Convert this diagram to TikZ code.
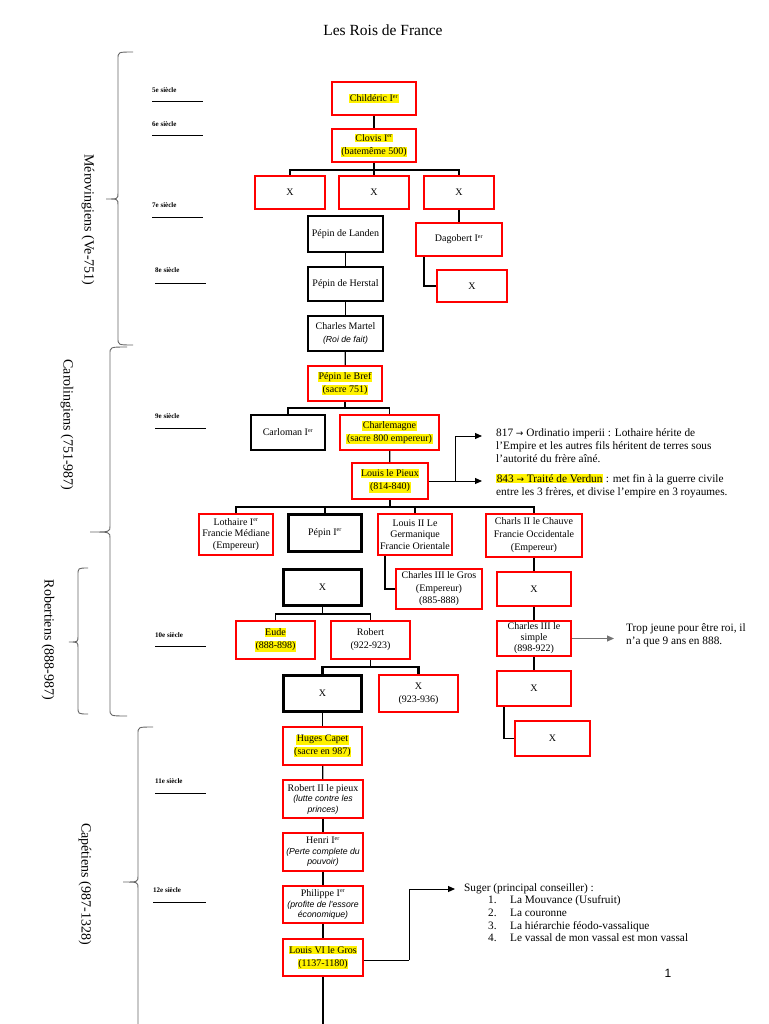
\documentclass[tikz,border=0pt]{standalone}
\usepackage{fontspec}
\setmainfont{Liberation Serif}
\newfontfamily\sansf{Liberation Sans}
\newfontfamily\arrf{DejaVu Sans}
\usetikzlibrary{arrows.meta}
\newcommand\hl[1]{{\setlength\fboxsep{0.6pt}\colorbox{yellow}{#1}}}
\newcommand\er{\textsuperscript{\fontsize{6}{6}\selectfont er}}
\newcommand\ra{{\arrf\fontsize{9}{10}\selectfont →}}
\newcommand\nt[1]{{\sansf\itshape\fontsize{8.7}{10}\selectfont #1}}
\tikzset{
  sz/.style 2 args={minimum width=#1pt, minimum height=#2pt},
  rbox/.style={draw=red, line width=1.8pt, fill=white, align=center, inner sep=0pt, font=\fontsize{10}{13}\selectfont},
  bbox/.style={rbox, draw=black, line width=1.6pt},
  tbox/.style={rbox, draw=black, line width=2.8pt},
  conn/.style={draw=black, line width=1.3pt},
  tconn/.style={draw=black, line width=2.4pt},
  arr/.style={draw=black, line width=1pt, -{Triangle[length=7pt,width=6pt]}},
  brc/.style={draw=black!60, line width=0.9pt},
  era/.style={rotate=-90, font=\fontsize{14}{16}\selectfont},
  siec/.style={anchor=west, inner sep=0pt, font=\bfseries\fontsize{7}{8}\selectfont},
  sline/.style={draw=black, line width=0.9pt},
  note/.style={anchor=north west, align=left, inner sep=0pt, font=\fontsize{11.3}{13}\selectfont}
}
\newcommand\mybrace[6]{% spine, ytop, ybot, xend, xtip, ytip
  \draw[brc] (#4,#2) .. controls (#1,#2) .. (#1,#2+7) -- (#1,#6-6)
    .. controls (#1,#6) .. (#5,#6) .. controls (#1,#6) .. (#1,#6+6)
    -- (#1,#3-7) .. controls (#1,#3) .. (#4,#3);}
\begin{document}
\begin{tikzpicture}[x=1pt,y=-1pt]
\useasboundingbox[fill=white] (0,0) rectangle (768,1024);
\node (title) at (383,30) {\fontsize{15.5}{17}\selectfont Les Rois de France};

% era braces and labels
\mybrace{118}{52}{345}{133}{106}{199}
\mybrace{110}{347}{716}{127}{90}{532}
\mybrace{78}{568}{714}{88}{69}{642}
\mybrace{138}{727}{1040}{153}{123}{882}
\node[era] (merov) at (88,220) {Mérovingiens (Ve-751)};
\node[era] (caro) at (67,425) {Carolingiens (751-987)};
\node[era] (robe) at (48,640) {Robertiens (888-987)};
\node[era] (cape) at (85,884) {Capétiens (987-1328)};

% siecles
\node[siec] (s5) at (152,90) {5e siècle};   \draw[sline] (152,101) -- (203,101);
\node[siec] (s6) at (152,124) {6e siècle};  \draw[sline] (152,135) -- (203,135);
\node[siec] (s7) at (152,205) {7e siècle};  \draw[sline] (152,217) -- (203,217);
\node[siec] (s8) at (155,270) {8e siècle};  \draw[sline] (155,283) -- (206,283);
\node[siec] (s9) at (155,416) {9e siècle};  \draw[sline] (155,428) -- (206,428);
\node[siec] (s10) at (155,635) {10e siècle}; \draw[sline] (155,646) -- (206,646);
\node[siec] (s11) at (155,781) {11e siècle}; \draw[sline] (155,793) -- (206,793);
\node[siec] (s12) at (153,890) {12e siècle}; \draw[sline] (153,902) -- (206,902);

% Merovingiens
\node[rbox,sz={84}{33}] (childeric) at (374,98.5) {\hl{Childéric I\er}};
\node[rbox,sz={84}{33}] (clovis) at (374,145.5) {\hl{Clovis I\er}\\\hl{(batemême 500)}};
\node[rbox,sz={70}{33}] (x1) at (290,192.5) {X};
\node[rbox,sz={70}{33}] (x2) at (374,192.5) {X};
\node[rbox,sz={70}{33}] (x3) at (459,192.5) {X};
\node[bbox,sz={75}{36}] (landen) at (345.5,234) {Pépin de Landen};
\node[rbox,sz={86}{33}] (dagobert) at (459,239.5) {Dagobert I\er};
\node[rbox,sz={70}{32}] (xdag) at (472,286) {X};
\node[bbox,sz={75}{34}] (herstal) at (345.5,284) {Pépin de Herstal};
\node[bbox,sz={75}{35}] (martel) at (345.5,333.5) {Charles Martel\\\nt{(Roi de fait)}};

% Carolingiens
\node[rbox,sz={74}{35}] (bref) at (345,383.5) {\hl{Pépin le Bref}\\\hl{(sacre 751)}};
\node[bbox,sz={74}{35}] (carloman) at (288,432.5) {Carloman I\er};
\node[rbox,sz={99}{35}] (charlemagne) at (389.5,432.5) {\hl{Charlemagne}\\\hl{(sacre 800 empereur)}};
\node[rbox,sz={76}{36}] (louis) at (390,481) {\hl{Louis le Pieux}\\\hl{(814-840)}};
\node[rbox,sz={74}{41},font=\fontsize{10}{11.5}\selectfont] (lothaire) at (236,534.5) {Lothaire I\er\\Francie Médiane\\(Empereur)};
\node[tbox,sz={73}{37}] (pepin1) at (325,533) {Pépin I\er};
\node[rbox,sz={74}{41},font=\fontsize{10}{11.5}\selectfont] (louis2) at (415,534.5) {Louis II Le\\Germanique\\Francie Orientale};
\node[rbox,sz={96}{43},font=\fontsize{10}{13}\selectfont] (charls2) at (534,535.5) {Charls II le Chauve\\Francie Occidentale\\(Empereur)};
\node[rbox,sz={86}{40},font=\fontsize{10}{12.5}\selectfont] (gros) at (439,589) {Charles III le Gros\\(Empereur)\\(885-888)};
\node[rbox,sz={74}{34}] (xc1) at (534,589) {X};
\node[rbox,sz={74}{35},font=\fontsize{10}{11}\selectfont] (simple) at (534,638.5) {Charles III le\\simple\\(898-922)};
\node[rbox,sz={74}{35}] (xc2) at (534,688.5) {X};
\node[rbox,sz={75}{35}] (xc3) at (552.5,738.5) {X};

% Robertiens
\node[tbox,sz={78}{36}] (xrob) at (322.5,587.5) {X};
\node[rbox,sz={79}{38}] (eude) at (275.5,640) {\hl{Eude}\\\hl{(888-898)}};
\node[rbox,sz={79}{38}] (robert) at (370.5,640) {Robert\\(922-923)};
\node[tbox,sz={78}{36}] (xr1) at (322.5,693.5) {X};
\node[rbox,sz={79}{37}] (xr2) at (418.5,693.5) {X\\(923-936)};

% Capetiens
\node[rbox,sz={79}{38}] (capet) at (322.5,746) {\hl{Huges Capet}\\\hl{(sacre en 987)}};
\node[rbox,sz={80}{38},font=\fontsize{10}{10.5}\selectfont] (robert2) at (323,799) {Robert II le pieux\\\nt{(lutte contre les}\\\nt{princes)}};
\node[rbox,sz={80}{38},font=\fontsize{10}{10.5}\selectfont] (henri) at (323,852) {Henri I\er\\\nt{(Perte complete du}\\\nt{pouvoir)}};
\node[rbox,sz={80}{37},font=\fontsize{10}{10.5}\selectfont] (philippe) at (323,904.5) {Philippe I\er\\\nt{(profite de l'essore}\\\nt{économique)}};
\node[rbox,sz={80}{37}] (louis6) at (323,957.5) {\hl{Louis VI le Gros}\\\hl{(1137-1180)}};
\coordinate (bottom) at (323,1024);

% connectors
\draw[conn,line width=1.8pt] (childeric) -- (clovis);
\draw[tconn] (clovis.south) -- (374,170) coordinate (j1);
\draw[tconn] (x1.north) |- (j1) -| (x3.north);
\draw[tconn] (j1) -- (x2.north);
\draw[conn] (x3) -- (dagobert);
\draw[conn] ([xshift=-35pt]dagobert.south) |- (xdag.west);
\draw[conn] (landen) -- (herstal);
\draw[conn] (herstal) -- (martel);
\draw[conn] (martel) -- (bref);
\draw[conn] (bref.south) -- (345,408) coordinate (j2);
\draw[conn] (carloman.north) |- (j2) -| (charlemagne.north);
\draw[conn] (charlemagne) -- (louis);
\draw[conn] (louis.south) -- (390,507) coordinate (j3);
\draw[conn] (lothaire.north) |- (j3) -| (charls2.north);
\draw[conn] (pepin1.north) -- (pepin1.north |- j3);
\draw[conn] (louis2.north) -- (louis2.north |- j3);
\draw[conn] ([xshift=-30pt]louis2.south) |- (gros.west);
\draw[conn] (charls2) -- (xc1);
\draw[conn] (xc1) -- (simple);
\draw[conn] (simple) -- (xc2);
\draw[conn] ([xshift=-30pt]xc2.south) |- (xc3.west);
\draw[conn] (xrob.south) -- (322.5,614) coordinate (j4);
\draw[conn] (eude.north) |- (j4) -| (robert.north);
\draw[conn] (robert.south) -- (370.5,667) coordinate (j5);
\draw[tconn] (xr1.north) |- (j5) -| (xr2.north);
\draw[conn] (xr1) -- (capet);
\draw[conn] (capet) -- (robert2);
\draw[conn] (robert2) -- (henri);
\draw[conn] (henri) -- (philippe);
\draw[conn] (philippe) -- (louis6);
\draw[conn] (louis6) -- (bottom);

% notes
\coordinate (lj) at (455,481);
\coordinate (a817) at (482,436);
\coordinate (a843) at (482,481);
\draw[arr] (louis.east) -- (a843);
\draw[arr] (lj) |- (a817);
\node[note] (t817) at (496,428) {817 \ra{} Ordinatio imperii : Lothaire hérite de\\l'Empire et les autres fils héritent de terres sous\\l'autorité du frère aîné.};
\node[note] (t843) at (496,474) {\hl{843 \ra{} Traité de Verdun} : met fin à la guerre civile\\entre les 3 frères, et divise l'empire en 3 royaumes.};

\coordinate (asimple) at (614,638.5);
\draw[arr,draw=black!55] (simple.east) -- (asimple);
\node[note] (ttrop) at (626,623) {Trop jeune pour être roi, il\\n'a que 9 ans en 888.};

\coordinate (ls) at (409,960);
\coordinate (asuger) at (455,889);
\draw[conn,line width=1pt] (louis6.east |- ls) -- (ls);
\draw[arr] (ls) |- (asuger);
\node[note,font=\fontsize{11.3}{12.7}\selectfont] (tsuger) at (464,883) {Suger (principal conseiller) :\\
\hspace*{24pt}\makebox[22pt][l]{1.}La Mouvance (Usufruit)\\
\hspace*{24pt}\makebox[22pt][l]{2.}La couronne\\
\hspace*{24pt}\makebox[22pt][l]{3.}La hiérarchie féodo-vassalique\\
\hspace*{24pt}\makebox[22pt][l]{4.}Le vassal de mon vassal est mon vassal};

\node[font=\sansf\fontsize{12}{14}\selectfont] (pnum) at (668,973) {1};
\end{tikzpicture}
\end{document}
